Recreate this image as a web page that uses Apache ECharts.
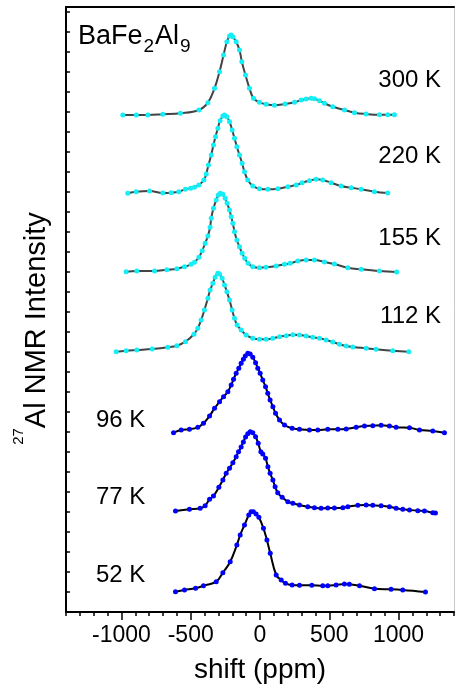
<!DOCTYPE html>
<html><head><meta charset="utf-8">
<script src="https://cdn.jsdelivr.net/npm/echarts@6/dist/echarts.min.js"></script>
<style>html,body{margin:0;padding:0;background:#fff}#c{width:455px;height:686px}</style>
</head><body><div id="c"></div>
<script>
// Temperature labels
const temps = ['300 K', '220 K', '155 K', '112 K', '96 K', '77 K', '52 K'];
// x tick labels (shift, ppm)
const xTickLabels = [-1000, -500, 0, 500, 1000];
// Spectra: [shift (ppm), stacked intensity (arb.)]
const k300 = [[-990,497],[-893,497],[-809,497],[-701,497.7],[-574,498.7],[-441,502],[-376,509.3],[-328,523.7],[-292,540.3],[-263,557],[-239,570.3],[-220,576],[-208,577],[-196,575.3],[-172,570.3],[-148,562],[-131,550.3],[-105,537],[-76,523.7],[-47,513.7],[-4,509.7],[44,507.7],[104,506.7],[181,508],[249,509.7],[297,512],[333,513],[369,513.7],[393,513.3],[429,511.3],[465,508.7],[525,505.3],[610,502],[682,499.3],[766,498],[862,497.3],[922,497.3],[970,497.3]];
const k220 = [[-954,418.7],[-894,420.3],[-797,421],[-701,419],[-641,419.3],[-586,420.3],[-538,422.7],[-501,423.7],[-473,424.7],[-441,427],[-405,432],[-388,438],[-372,447],[-352,457],[-336,467],[-321,475.3],[-304,483.7],[-288,491.3],[-268,496],[-256,497],[-239,495.3],[-220,490.3],[-201,482],[-184,473.7],[-167,465.3],[-148,457],[-129,448.7],[-112,440.3],[-88,432],[-52,426],[-4,423.3],[57,422.7],[129,423.3],[201,425.3],[261,427],[304,429.3],[357,431.3],[405,432.7],[453,432],[513,429.3],[585,426],[658,424.3],[730,422.7],[826,420.3],[922,419]];
const k155 = [[-966,340.3],[-889,341],[-761,341],[-672,342.3],[-600,343.3],[-545,345.3],[-497,347.7],[-473,349.7],[-441,354.7],[-417,361.3],[-396,368.7],[-376,376],[-360,384.7],[-352,393.7],[-336,403.7],[-316,412],[-300,417],[-287,418.7],[-268,417.7],[-251,413.7],[-237,408.7],[-220,402],[-208,395.3],[-196,388.7],[-184,380.3],[-167,372],[-148,365.3],[-129,358.7],[-110,353.7],[-86,348.7],[-52,345.3],[-4,344.3],[44,344.7],[117,346],[177,347.7],[218,348.7],[273,351],[333,352],[393,352],[465,350],[537,348],[634,344.3],[730,342.7],[862,341],[987,340]];
const k112 = [[-1038,260.3],[-966,261.3],[-889,262],[-778,263],[-665,264.7],[-600,266.3],[-538,270.3],[-477,277.7],[-449,283.7],[-425,292],[-401,302],[-376,313.7],[-360,322],[-340,328.7],[-324,334.7],[-304,338.7],[-292,338],[-273,333.7],[-256,327],[-239,320.3],[-220,312],[-201,302],[-184,293.7],[-165,287],[-136,282],[-100,277],[-52,273.7],[-4,272.7],[44,272.7],[92,273.7],[141,275.3],[189,276.3],[237,277.3],[285,277],[333,276],[381,274.7],[429,273.7],[477,272],[525,270],[573,267.7],[622,266],[670,265],[766,263.7],[838,262.7],[958,261.3],[1074,260.3]];
const k96 = [[-624,179.3],[-569,182],[-509,182.7],[-449,184.7],[-408,188.7],[-364,196],[-328,203.7],[-292,210.3],[-263,215.3],[-232,220.3],[-208,227],[-191,232.7],[-172,238.7],[-153,243.7],[-136,248.7],[-120,252.7],[-106,256],[-88,258.7],[-71,258],[-52,254.7],[-32,249.3],[-16,243.7],[1,238.7],[20,232],[40,225.3],[56,218.7],[73,212],[93,205.3],[112,198.7],[141,192],[177,187],[232,183.7],[285,182.7],[357,182],[417,182],[489,182.7],[562,182.7],[622,183],[694,184.7],[754,186],[814,186.3],[874,186.7],[934,186],[982,184.7],[1079,184.3],[1151,182],[1247,181],[1331,179.3]];
const k77 = [[-610,101],[-509,102.7],[-432,103.7],[-396,106.3],[-364,112.7],[-336,116],[-297,124.7],[-268,132],[-244,138.7],[-220,143.7],[-196,149.3],[-172,155.3],[-155,160.3],[-136,165],[-120,170],[-104,175],[-88,178.3],[-71,180.3],[-52,179.3],[-32,175.3],[-13,168.7],[6,160.3],[20,158],[40,153.7],[57,145.3],[73,138.7],[93,132],[109,125.3],[128,119.3],[160,114.7],[201,110.3],[237,108.7],[285,107],[345,105.3],[393,104.3],[441,103.7],[489,104],[537,104],[598,104.3],[634,105.3],[706,106.7],[766,107],[814,106.7],[874,106.3],[934,105.3],[982,103.7],[1030,102.7],[1079,102],[1139,101.3],[1187,101],[1247,99.3],[1266,99]];
const k52 = [[-610,20.3],[-545,22],[-465,23.7],[-408,26.3],[-316,30.3],[-268,39.3],[-215,50.3],[-167,67],[-143,77],[-112,87],[-81,97],[-64,100.3],[-48,100.3],[-28,98],[-8,94.7],[25,83.7],[50,72],[74,58.7],[117,37],[153,32],[184,28.7],[232,27],[285,26.7],[374,26.7],[453,26.3],[489,26.3],[549,27],[609,28],[645,27.7],[718,26.3],[826,23.3],[946,22.7],[1030,22],[1194,20]];

const spectra = [k300, k220, k155, k112, k96, k77, k52];
const FONT = '"Liberation Sans", Arial, Helvetica, sans-serif';
const chart = echarts.init(document.getElementById('c'), null, {renderer: 'canvas'});

const series = spectra.map((d, i) => {
  const hot = i < 4;
  return {
    type: 'line', name: temps[i], data: d, smooth: 0.4,
    symbol: 'circle', symbolSize: 5, showSymbol: true, showAllSymbol: true,
    lineStyle: {color: hot ? '#444444' : '#000000', width: 2},
    itemStyle: {color: hot ? '#14eef6' : '#0000ff', borderWidth: 0},
    emphasis: {disabled: true}, animation: false
  };
});

const labelPos = [
  {x: 441, y: 80, align: 'right'},
  {x: 441, y: 156, align: 'right'},
  {x: 441, y: 238.5, align: 'right'},
  {x: 441, y: 316.5, align: 'right'},
  {x: 96, y: 420, align: 'left'},
  {x: 96, y: 497.5, align: 'left'},
  {x: 96, y: 575, align: 'left'}
];
const graphics = temps.map((t, i) => ({
  type: 'text', x: labelPos[i].x, y: labelPos[i].y, silent: true,
  style: {text: t, font: '24px ' + FONT, fill: '#000', align: labelPos[i].align, verticalAlign: 'middle'}
}));
graphics.push({
  type: 'text', x: 78, y: 16.5, silent: true,
  style: {
    text: '{m|BaFe}{s|2}{m|Al}{s|9}', align: 'left', verticalAlign: 'top', fill: '#000',
    rich: {
      m: {fontSize: 27, fontFamily: FONT, lineHeight: 40, fill: '#000'},
      s: {fontSize: 19, fontFamily: FONT, lineHeight: 18, verticalAlign: 'bottom', fill: '#000', padding: [0, 1, 0, 1]}
    }
  }
});
graphics.push({
  type: 'text', x: 36.5, y: 328.5, rotation: Math.PI / 2, silent: true,
  style: {
    text: '{s|27}{m|Al NMR Intensity}', align: 'center', verticalAlign: 'middle', fill: '#000',
    rich: {
      m: {fontSize: 29, fontFamily: FONT, lineHeight: 50, fill: '#000'},
      s: {fontSize: 15, fontFamily: FONT, lineHeight: 14, verticalAlign: 'top', fill: '#000'}
    }
  }
});
graphics.push({
  type: 'text', x: 260, y: 670, silent: true,
  style: {text: 'shift (ppm)', font: '28px ' + FONT, fill: '#000', align: 'center', verticalAlign: 'middle'}
});

const xBase = {type: 'value', min: -1400, max: 1400, interval: 100, splitLine: {show: false}};
chart.setOption({
  animation: false,
  backgroundColor: '#fff',
  grid: {left: 66, right: 1, top: 7, bottom: 74, containLabel: false, outerBoundsMode: 'none'},
  xAxis: [
    Object.assign({}, xBase, {
      position: 'bottom',
      axisLine: {show: true, onZero: false, lineStyle: {color: '#000', width: 2}},
      axisTick: {show: true, inside: false, length: 4, lineStyle: {color: '#000', width: 1.5}},
      axisLabel: {show: true, customValues: xTickLabels, formatter: v => String(v), fontSize: 23, color: '#000', fontFamily: FONT, margin: 12}
    }),
    Object.assign({}, xBase, {
      position: 'bottom',
      axisLine: {show: false, onZero: false},
      axisTick: {show: true, inside: false, length: 8, customValues: xTickLabels, lineStyle: {color: '#000', width: 1.5}},
      axisLabel: {show: false}
    }),
    Object.assign({}, xBase, {
      position: 'top',
      axisLine: {show: true, onZero: false, lineStyle: {color: '#000', width: 2}},
      axisTick: {show: false}, axisLabel: {show: false}
    })
  ],
  yAxis: [
    {type: 'value', min: 0, max: 605, interval: 20, position: 'left', splitLine: {show: false},
     axisLine: {show: true, onZero: false, lineStyle: {color: '#000', width: 2}},
     axisTick: {show: true, inside: true, length: 4, lineStyle: {color: '#000', width: 1.5}},
     axisLabel: {show: false}},
    {type: 'value', min: 0, max: 605, position: 'right', splitLine: {show: false},
     axisLine: {show: true, onZero: false, lineStyle: {color: '#c8c8c8', width: 1}},
     axisTick: {show: false}, axisLabel: {show: false}}
  ],
  series: series,
  graphic: graphics
});
</script>
</body></html>
